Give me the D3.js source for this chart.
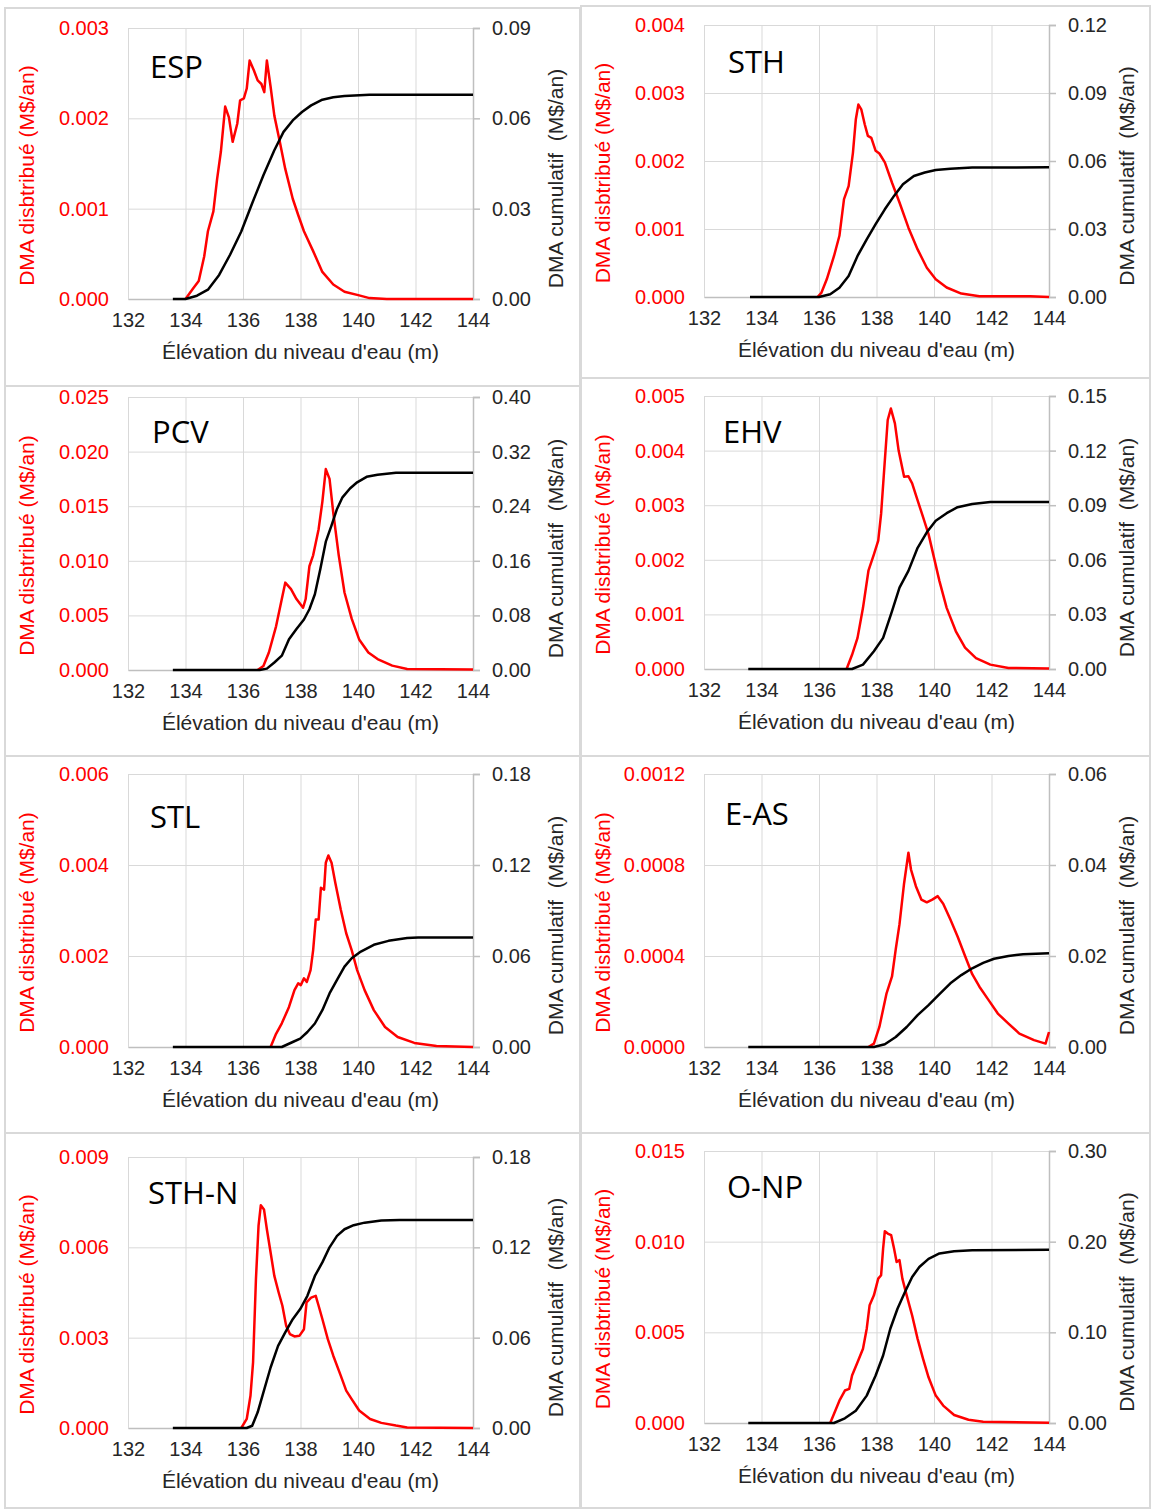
<!DOCTYPE html>
<html>
<head>
<meta charset="utf-8">
<script src="https://cdn.jsdelivr.net/npm/d3@7"></script>
<style>
  body { margin: 0; background: #fff; }
  svg { display: block; }
</style>
</head>
<body>
<svg id="chart" width="1151" height="1511"></svg>
<script>
// Elevation ticks shared by all panels
const xTicks = [132, 134, 136, 138, 140, 142, 144];

// Panel names
const panelNames = ["ESP", "STH", "PCV", "EHV", "STL", "E-AS", "STH-N", "O-NP"];

// Left axis (DMA distribue) ticks per panel
const leftTicks = [
  [0, 0.001, 0.002, 0.003],
  [0, 0.001, 0.002, 0.003, 0.004],
  [0, 0.005, 0.010, 0.015, 0.020, 0.025],
  [0, 0.001, 0.002, 0.003, 0.004, 0.005],
  [0, 0.002, 0.004, 0.006],
  [0, 0.0004, 0.0008, 0.0012],
  [0, 0.003, 0.006, 0.009],
  [0, 0.005, 0.010, 0.015]
];

// Right axis (DMA cumulatif) ticks per panel
const rightTicks = [
  [0, 0.03, 0.06, 0.09],
  [0, 0.03, 0.06, 0.09, 0.12],
  [0, 0.08, 0.16, 0.24, 0.32, 0.40],
  [0, 0.03, 0.06, 0.09, 0.12, 0.15],
  [0, 0.06, 0.12, 0.18],
  [0, 0.02, 0.04, 0.06],
  [0, 0.06, 0.12, 0.18],
  [0, 0.10, 0.20, 0.30]
];

const leftDecimals = [3, 3, 3, 3, 3, 4, 3, 3];

// Series: [elevation (m), value (M$/an)]
const espRed = [[134.0,0],[134.27,0.00012],[134.46,0.0002],[134.65,0.00047],[134.78,0.00075],[134.97,0.00097],[135.1,0.00133],[135.23,0.00163],[135.38,0.00213],[135.51,0.00201],[135.64,0.00174],[135.8,0.00194],[135.9,0.0022],[136.03,0.00222],[136.13,0.00233],[136.23,0.00264],[136.38,0.00253],[136.51,0.00242],[136.64,0.00238],[136.74,0.00229],[136.83,0.00264],[136.96,0.00235],[137.09,0.00203],[137.28,0.00174],[137.47,0.00144],[137.73,0.00111],[137.92,0.00093],[138.12,0.00075],[138.44,0.00053],[138.76,0.0003],[139.14,0.00016],[139.53,0.00008],[140.04,0.00004],[140.4,0.00001],[141,0],[144,0]];
const espBlack = [[133.56,0],[134.0,0],[134.4,0.0011],[134.78,0.0031],[135.17,0.008],[135.55,0.0147],[135.94,0.0224],[136.32,0.0318],[136.71,0.0411],[137.09,0.0494],[137.41,0.0555],[137.73,0.0593],[138.05,0.0621],[138.37,0.0643],[138.76,0.0662],[139.14,0.067],[139.53,0.0674],[140.4,0.0678],[144,0.0678]];

const sthRed = [[135.95,0],[136.08,0.00006],[136.27,0.00026],[136.52,0.0006],[136.71,0.0009],[136.87,0.00144],[137.03,0.00163],[137.18,0.00212],[137.28,0.00261],[137.37,0.00283],[137.47,0.00276],[137.59,0.00254],[137.7,0.00237],[137.82,0.00234],[137.97,0.00215],[138.1,0.00211],[138.29,0.00198],[138.54,0.00168],[138.8,0.00139],[139.11,0.00102],[139.43,0.0007],[139.75,0.00043],[140.06,0.00026],[140.44,0.00014],[140.95,0.00005],[141.58,0.00001],[143.35,0.00001],[144,0]];
const sthBlack = [[133.6,0],[136.0,0],[136.39,0.0012],[136.71,0.0041],[137.03,0.0093],[137.34,0.0181],[137.66,0.0254],[137.97,0.0321],[138.29,0.0387],[138.61,0.0446],[138.92,0.0497],[139.3,0.0534],[139.68,0.0549],[140.06,0.056],[140.57,0.0566],[141.33,0.0571],[144,0.0572]];

const pcvRed = [[136.51,0],[136.71,0.00037],[136.9,0.0016],[137.15,0.004],[137.35,0.0065],[137.47,0.008],[137.67,0.0074],[137.86,0.0065],[138.09,0.0057],[138.18,0.0065],[138.31,0.0095],[138.44,0.0105],[138.63,0.0129],[138.76,0.0154],[138.88,0.0184],[139.01,0.0175],[139.14,0.0144],[139.33,0.0105],[139.53,0.0071],[139.78,0.0047],[140.04,0.0028],[140.36,0.0016],[140.68,0.001],[141.19,0.0004],[141.71,0.0001],[144,0.00005]];
const pcvBlack = [[133.56,0],[136.58,0],[136.83,0.002],[137.09,0.011],[137.35,0.021],[137.6,0.045],[137.86,0.06],[138.12,0.074],[138.31,0.089],[138.5,0.111],[138.69,0.148],[138.88,0.188],[139.08,0.212],[139.27,0.236],[139.46,0.253],[139.72,0.266],[139.97,0.275],[140.3,0.283],[140.68,0.286],[141.32,0.289],[144,0.289]];

const ehvRed = [[136.96,0],[137.15,0.00026],[137.34,0.00057],[137.53,0.00112],[137.72,0.0018],[137.91,0.0021],[138.06,0.00235],[138.16,0.00284],[138.29,0.00382],[138.39,0.00456],[138.5,0.00477],[138.64,0.0045],[138.77,0.004],[138.96,0.00352],[139.11,0.00353],[139.24,0.0034],[139.43,0.00309],[139.62,0.00278],[139.81,0.00247],[140.0,0.00204],[140.19,0.00161],[140.44,0.00112],[140.76,0.00069],[141.08,0.00039],[141.46,0.0002],[141.96,0.00008],[142.59,0.00002],[144,0.00001]];
const ehvBlack = [[133.54,0],[137.15,0],[137.53,0.0024],[137.91,0.0098],[138.23,0.0171],[138.54,0.0318],[138.8,0.0447],[139.11,0.0539],[139.43,0.0666],[139.75,0.0751],[140.06,0.0815],[140.44,0.0856],[140.82,0.0889],[141.33,0.0907],[141.96,0.0917],[144,0.0917]];

const stlRed = [[136.96,0],[137.15,0.00029],[137.35,0.00052],[137.6,0.00088],[137.79,0.00125],[137.92,0.0014],[138.01,0.00136],[138.12,0.00151],[138.22,0.00143],[138.35,0.00169],[138.44,0.00213],[138.53,0.0028],[138.63,0.0028],[138.71,0.0035],[138.82,0.00346],[138.88,0.00405],[138.97,0.00421],[139.08,0.00405],[139.21,0.00361],[139.4,0.00302],[139.59,0.0025],[139.78,0.00213],[139.97,0.00169],[140.23,0.00125],[140.55,0.00081],[140.94,0.00044],[141.38,0.00022],[141.96,0.00009],[142.73,0.00002],[144,0]];
const stlBlack = [[133.56,0],[137.35,0],[137.73,0.0033],[137.99,0.0055],[138.24,0.0099],[138.5,0.0155],[138.76,0.0243],[139.01,0.0353],[139.27,0.0442],[139.53,0.053],[139.78,0.0585],[140.1,0.0629],[140.55,0.0674],[141.06,0.07],[141.71,0.0718],[142.09,0.0722],[144,0.0722]];

const easRed = [[137.72,0],[137.91,0.000015],[138.1,0.000088],[138.35,0.000236],[138.54,0.00031],[138.67,0.00043],[138.8,0.00054],[138.96,0.00072],[139.11,0.000854],[139.2,0.00078],[139.37,0.000707],[139.56,0.000648],[139.75,0.000636],[139.94,0.000648],[140.13,0.000663],[140.32,0.00063],[140.57,0.00056],[140.82,0.000486],[141.08,0.0004],[141.33,0.00032],[141.58,0.000265],[141.9,0.000206],[142.22,0.000147],[142.59,0.000103],[142.97,0.000059],[143.48,0.00003],[143.88,0.000015],[144,0.000066]];
const easBlack = [[133.54,0],[137.91,0],[138.29,0.0006],[138.67,0.0022],[139.05,0.0044],[139.43,0.007],[139.81,0.0092],[140.19,0.0116],[140.57,0.014],[140.95,0.0158],[141.33,0.0173],[141.71,0.0185],[142.09,0.0194],[142.59,0.02],[143.1,0.0204],[144,0.0206]];

const sthnRed = [[135.94,0],[136.13,0.0003],[136.26,0.00107],[136.35,0.00218],[136.45,0.00494],[136.54,0.00671],[136.62,0.0074],[136.73,0.00726],[136.83,0.0066],[136.96,0.00583],[137.09,0.00505],[137.24,0.0045],[137.37,0.00406],[137.5,0.0034],[137.63,0.00312],[137.79,0.00304],[137.96,0.00306],[138.12,0.00328],[138.21,0.00417],[138.37,0.00433],[138.53,0.00439],[138.63,0.00406],[138.76,0.00362],[138.95,0.00295],[139.14,0.0024],[139.4,0.00174],[139.59,0.00124],[139.78,0.00096],[140.04,0.00058],[140.42,0.0003],[140.81,0.00017],[141.32,0.00008],[141.71,0.00002],[144,0]];
const sthnBlack = [[133.56,0],[136.13,0],[136.32,0.0015],[136.51,0.0104],[136.71,0.0237],[136.96,0.0402],[137.22,0.0546],[137.47,0.0635],[137.73,0.0723],[137.99,0.079],[138.24,0.0878],[138.5,0.101],[138.76,0.11],[139.01,0.12],[139.27,0.1276],[139.53,0.132],[139.85,0.1347],[140.23,0.1364],[140.81,0.1378],[141.45,0.1382],[144,0.1382]];

const onpRed = [[136.39,0],[136.52,0.0005],[136.71,0.00123],[136.9,0.00179],[137.05,0.00188],[137.15,0.00262],[137.34,0.00335],[137.53,0.00409],[137.66,0.0052],[137.76,0.00649],[137.91,0.00704],[138.06,0.00796],[138.16,0.00815],[138.23,0.00962],[138.29,0.01058],[138.39,0.01045],[138.51,0.01036],[138.61,0.00962],[138.7,0.00888],[138.8,0.00898],[138.9,0.00796],[139.05,0.00704],[139.24,0.00593],[139.43,0.00464],[139.62,0.00354],[139.81,0.00252],[140.06,0.00151],[140.32,0.00096],[140.7,0.00044],[141.2,0.00018],[141.71,0.00007],[144,0.00002]];
const onpBlack = [[133.54,0],[136.52,0],[136.9,0.0052],[137.28,0.0136],[137.66,0.0302],[137.97,0.0524],[138.23,0.0745],[138.48,0.104],[138.73,0.126],[138.99,0.1445],[139.24,0.161],[139.49,0.172],[139.81,0.181],[140.19,0.187],[140.7,0.1895],[141.33,0.1906],[144,0.191]];

const redSeries = [espRed, sthRed, pcvRed, ehvRed, stlRed, easRed, sthnRed, onpRed];
const blackSeries = [espBlack, sthBlack, pcvBlack, ehvBlack, stlBlack, easBlack, sthnBlack, onpBlack];

// Layout of each panel (plot area and frame)
const layout = [
  { left: 128, right: 473, top: 28,   bottom: 299,  frame: [5, 8, 580, 386],     label: [150, 78],   rOff: 90 },
  { left: 704, right: 1049, top: 25,  bottom: 297,  frame: [581, 6, 1150, 378],  label: [728, 73],   rOff: 85 },
  { left: 128, right: 473, top: 397,  bottom: 670,  frame: [5, 386, 580, 756],   label: [152, 443],  rOff: 90 },
  { left: 704, right: 1049, top: 396, bottom: 669,  frame: [581, 378, 1150, 756], label: [723, 443], rOff: 85 },
  { left: 128, right: 473, top: 774,  bottom: 1047, frame: [5, 756, 580, 1133],  label: [150, 828],  rOff: 90 },
  { left: 704, right: 1049, top: 774, bottom: 1047, frame: [581, 756, 1150, 1133], label: [725, 825], rOff: 85 },
  { left: 128, right: 473, top: 1157, bottom: 1428, frame: [5, 1133, 580, 1508], label: [148, 1204], rOff: 90 },
  { left: 704, right: 1049, top: 1151, bottom: 1423, frame: [581, 1133, 1150, 1508], label: [727, 1198], rOff: 85 }
];

const svg = d3.select("#chart");
const gridColor = "#d9d9d9";
const axisColor = "#bfbfbf";
const textColor = "#262626";
const font = "'Liberation Sans', Arial, sans-serif";

panelNames.forEach((name, i) => {
    const L = layout[i];
    const lt = leftTicks[i], rt = rightTicks[i];

    // frame
    svg.append("rect")
        .attr("x", L.frame[0]).attr("y", L.frame[1])
        .attr("width", L.frame[2] - L.frame[0]).attr("height", L.frame[3] - L.frame[1])
        .attr("fill", "none").attr("stroke", "#d9d9d9").attr("stroke-width", 2);

    const x = d3.scaleLinear().domain([132, 144]).range([L.left, L.right]);
    const yL = d3.scaleLinear().domain([0, d3.max(lt)]).range([L.bottom, L.top]);
    const yR = d3.scaleLinear().domain([0, d3.max(rt)]).range([L.bottom, L.top]);

    const g = svg.append("g");

    // vertical gridlines
    g.append("g")
        .attr("transform", `translate(0,${L.bottom})`)
        .call(d3.axisBottom(x).tickValues(xTicks).tickSize(-(L.bottom - L.top)).tickFormat(""))
        .call(a => a.select(".domain").remove())
        .call(a => a.selectAll("line").attr("stroke", gridColor));

    // horizontal gridlines
    g.append("g")
        .attr("transform", `translate(${L.left},0)`)
        .call(d3.axisLeft(yL).tickValues(lt).tickSize(-(L.right - L.left)).tickFormat(""))
        .call(a => a.select(".domain").remove())
        .call(a => a.selectAll("line").attr("stroke", gridColor));

    // bottom axis
    const xa = g.append("g")
        .attr("transform", `translate(0,${L.bottom})`)
        .call(d3.axisBottom(x).tickValues(xTicks).tickSize(0).tickPadding(14).tickFormat(d3.format("d")));
    xa.select(".domain").attr("stroke", axisColor).attr("stroke-width", 1.5);
    xa.selectAll("text").attr("fill", textColor).style("font-family", font).style("font-size", "20px");

    // left axis
    const la = g.append("g")
        .attr("transform", `translate(${L.left},0)`)
        .call(d3.axisLeft(yL).tickValues(lt).tickSize(0).tickPadding(19).tickFormat(d3.format(`.${leftDecimals[i]}f`)));
    la.select(".domain").attr("stroke", gridColor);
    la.selectAll("text").attr("fill", "#ff0000").style("font-family", font).style("font-size", "20px");

    // right axis
    const ra = g.append("g")
        .attr("transform", `translate(${L.right},0)`)
        .call(d3.axisRight(yR).tickValues(rt).tickSize(7).tickPadding(12).tickFormat(d3.format(".2f")));
    ra.select(".domain").attr("stroke", axisColor).attr("stroke-width", 1.5);
    ra.selectAll("line").attr("stroke", axisColor).attr("stroke-width", 1.5);
    ra.selectAll("text").attr("fill", textColor).style("font-family", font).style("font-size", "20px");

    // series lines
    const redLine = d3.line().x(d => x(d[0])).y(d => yL(d[1]));
    const blackLine = d3.line().x(d => x(d[0])).y(d => yR(d[1]));

    g.append("path").datum(redSeries[i])
        .attr("d", redLine).attr("fill", "none")
        .attr("stroke", "#ff0000").attr("stroke-width", 2.5).attr("stroke-linejoin", "round");

    g.append("path").datum(blackSeries[i])
        .attr("d", blackLine).attr("fill", "none")
        .attr("stroke", "#000").attr("stroke-width", 2.5).attr("stroke-linejoin", "round");

    // panel label
    g.append("text")
        .attr("x", L.label[0]).attr("y", L.label[1])
        .style("font-family", "'Open Sans', 'Noto Sans', sans-serif")
        .style("font-size", "31px")
        .attr("fill", "#000")
        .text(name);

    const midY = (L.top + L.bottom) / 2;

    // x title
    g.append("text")
        .attr("x", (L.left + L.right) / 2)
        .attr("y", L.bottom + 60)
        .attr("text-anchor", "middle")
        .style("font-family", font).style("font-size", "21px")
        .attr("fill", textColor)
        .text("Élévation du niveau d'eau (m)");

    // left y title
    g.append("text")
        .attr("transform", `translate(${L.left - 94},${midY + 12}) rotate(-90)`)
        .attr("text-anchor", "middle")
        .style("font-family", font).style("font-size", "21px")
        .attr("fill", "#ff0000")
        .text("DMA disbtribué (M$/an)");

    // right y title
    g.append("text")
        .attr("transform", `translate(${L.right + L.rOff},${midY + 15}) rotate(-90)`)
        .attr("text-anchor", "middle")
        .style("white-space", "pre")
        .style("font-family", font).style("font-size", "21px")
        .attr("fill", textColor)
        .text("DMA cumulatif  (M$/an)");
});
</script>
</body>
</html>
